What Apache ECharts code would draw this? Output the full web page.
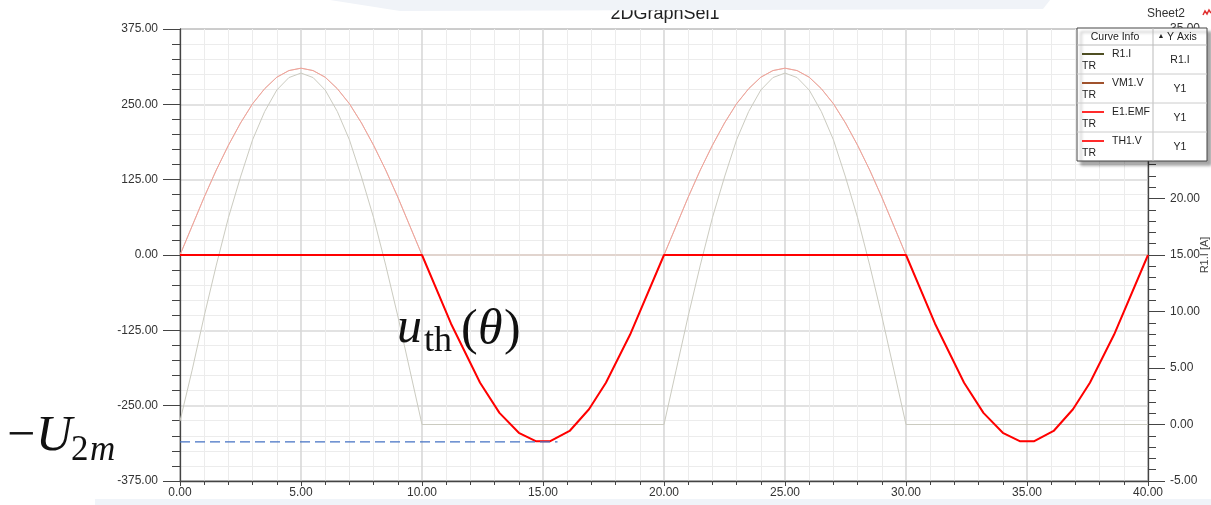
<!DOCTYPE html>
<html>
<head>
<meta charset="utf-8">
<style>html,body{margin:0;padding:0;background:#fff;}#c{width:1211px;height:505px;}</style>
<script src="https://cdn.jsdelivr.net/npm/echarts/dist/echarts.min.js"></script>
</head>
<body>
<div id="c"></div>
<script>
// ---- data ----
const emfT = [0,0.5,1,1.5,2,2.5,3,3.5,4,4.5,5,5.5,6,6.5,7,7.5,8,8.5,9,9.5,10,
  11.2,12.4,13.2,14,14.7,15.3,16.1,16.9,17.6,18.6,20,
  20.5,21,21.5,22,22.5,23,23.5,24,24.5,25,25.5,26,26.5,27,27.5,28,28.5,29,29.5,30,
  31.2,32.4,33.2,34,34.7,35.3,36.1,36.9,37.6,38.6,40];
const emfV = [0,48,96,141,182,219,251,276,295,306,310,306,295,276,251,219,182,141,96,48,0,
  -114,-212,-262,-295,-309,-309,-292,-256,-212,-132,0,
  48,96,141,182,219,251,276,295,306,310,306,295,276,251,219,182,141,96,48,0,
  -114,-212,-262,-295,-309,-309,-292,-256,-212,-132,0];
const thT = [0,10,11.2,12.4,13.2,14,14.7,15.3,16.1,16.9,17.6,18.6,20,
  30,31.2,32.4,33.2,34,34.7,35.3,36.1,36.9,37.6,38.6,40];
const thV = [0,0,-114,-212,-262,-295,-309,-309,-292,-256,-212,-132,0,
  0,-114,-212,-262,-295,-309,-309,-292,-256,-212,-132,0];
const vmT = [0,0.5,1,1.5,2,2.5,3,3.5,4,4.5,5,5.5,6,6.5,7,7.5,8,8.5,9,9.5,10,
  20,20.5,21,21.5,22,22.5,23,23.5,24,24.5,25,25.5,26,26.5,27,27.5,28,28.5,29,29.5,30,40];
const vmV = [0,48,96,141,182,219,251,276,295,306,310,306,295,276,251,219,182,141,96,48,0,
  0,48,96,141,182,219,251,276,295,306,310,306,295,276,251,219,182,141,96,48,0,0];
const riT = [0,0.5,1,1.5,2,2.5,3,3.5,4,4.5,5,5.5,6,6.5,7,7.5,8,8.5,9,9.5,10,
  20,20.5,21,21.5,22,22.5,23,23.5,24,24.5,25,25.5,26,26.5,27,27.5,28,28.5,29,29.5,30,40];
const riV = [0.3,4.8,9.6,14.1,18.3,21.9,25.2,27.7,29.6,30.7,31.1,30.7,29.6,27.7,25.2,21.9,18.3,14.1,9.6,4.8,0,
  0,4.8,9.6,14.1,18.3,21.9,25.2,27.7,29.6,30.7,31.1,30.7,29.6,27.7,25.2,21.9,18.3,14.1,9.6,4.8,0,0];
const dashT = [0, 15.6];
const dashV = [-310, -310];
const legendNames = ['R1.I', 'VM1.V', 'E1.EMF', 'TH1.V'];
const legendAxes = ['R1.I', 'Y1', 'Y1', 'Y1'];
const legendColors = ['#4f4f23', '#a0522d', '#ff2b2b', '#ff2b2b'];

const pairs = (t, v) => t.map((x, i) => [x, v[i]]);
const F = '"Liberation Sans", Arial, sans-serif';
const S = '"Liberation Serif", "Times New Roman", serif';

const chart = echarts.init(document.getElementById('c'), null, {renderer: 'canvas'});

const graphic = [];
// background bands
graphic.push({type:'polygon', z:50, shape:{points:[[330,0],[1050,0],[1043,9],[400,11]]}, style:{fill:'#f0f3f8'}});
graphic.push({type:'rect', z:50, shape:{x:95,y:499,width:1116,height:6}, style:{fill:'#f0f4f9'}});
// title (top slightly covered by band)
graphic.push({type:'text', z:40, x:665, y:14, style:{text:'2DGraphSel1', font:'18px '+F, fill:'#222', textAlign:'center', textVerticalAlign:'middle'}});
graphic.push({type:'text', z:40, x:1166, y:14, style:{text:'Sheet2', font:'12px '+F, fill:'#333', textAlign:'center', textVerticalAlign:'middle'}});
graphic.push({type:'polyline', z:40, shape:{points:[[1203,15],[1205,11],[1207,14],[1209,10],[1211,13]]}, style:{stroke:'#e03030', lineWidth:1.5, fill:null}});
// right axis name
graphic.push({type:'text', z:40, x:1205, y:255, rotation:Math.PI/2, style:{text:'R1.I [A]', font:'11px '+F, fill:'#444', textAlign:'center', textVerticalAlign:'middle'}});
// legend box
const bx = 1077, by = 28, bw = 130, bh = 133;
graphic.push({type:'rect', z:100, shape:{x:bx,y:by,width:bw,height:bh}, style:{fill:'#fff', stroke:'#444', lineWidth:1, shadowBlur:3, shadowOffsetX:4, shadowOffsetY:4, shadowColor:'rgba(0,0,0,0.35)'}});
graphic.push({type:'line', z:101, shape:{x1:1153,y1:by,x2:1153,y2:by+bh}, style:{stroke:'#bbb', lineWidth:1}});
graphic.push({type:'line', z:101, shape:{x1:bx,y1:45,x2:bx+bw,y2:45}, style:{stroke:'#bbb', lineWidth:1}});
graphic.push({type:'text', z:101, x:1115, y:37, style:{text:'Curve Info', font:'10.5px '+F, fill:'#222', textAlign:'center', textVerticalAlign:'middle'}});
graphic.push({type:'text', z:101, x:1161, y:36, style:{text:'▲', font:'7px '+F, fill:'#222', textAlign:'center', textVerticalAlign:'middle'}});
graphic.push({type:'text', z:101, x:1167, y:37, style:{text:'Y Axis', font:'10.5px '+F, fill:'#222', textAlign:'left', textVerticalAlign:'middle'}});
legendNames.forEach((n, i) => {
  const top = 45 + i * 29;
  if (i > 0) graphic.push({type:'line', z:101, shape:{x1:bx,y1:top,x2:bx+bw,y2:top}, style:{stroke:'#ccc', lineWidth:1}});
  graphic.push({type:'line', z:101, shape:{x1:1082,y1:top+9,x2:1104,y2:top+9}, style:{stroke:legendColors[i], lineWidth:2}});
  graphic.push({type:'text', z:101, x:1112, y:top+9, style:{text:n, font:'10.5px '+F, fill:'#222', textAlign:'left', textVerticalAlign:'middle'}});
  graphic.push({type:'text', z:101, x:1082, y:top+21, style:{text:'TR', font:'10.5px '+F, fill:'#222', textAlign:'left', textVerticalAlign:'middle'}});
  graphic.push({type:'text', z:101, x:1180, y:top+15, style:{text:legendAxes[i], font:'10.5px '+F, fill:'#222', textAlign:'center', textVerticalAlign:'middle'}});
});
// annotations
const ann = (text, x, y, size, italic) => graphic.push({type:'text', z:60, x:x, y:y,
  style:{text:text, font:(italic?'italic ':'')+size+'px '+S, fill:'#111', textAlign:'left', textVerticalAlign:'middle'}});
ann('u', 397, 329, 50, true);
ann('th', 424, 342, 36, false);
ann('(', 461, 331, 50, false);
ann('θ', 478, 331, 50, true);
ann(')', 504, 331, 50, false);
ann('−', 7, 437, 50, false);
ann('U', 36, 437, 50, true);
ann('2', 71, 451, 35, false);
ann('m', 90, 451, 35, true);

const lblFmt = v => v.toFixed(2);

chart.setOption({
  animation: false,
  backgroundColor: '#fff',
  grid: {left:180, right:63, top:29, bottom:24, show:true, borderColor:'#555', borderWidth:1, backgroundColor:'transparent'},
  xAxis: {
    type:'value', min:0, max:40, interval:5,
    axisLine:{show:true, onZero:false, lineStyle:{color:'#444', width:1.3}},
    axisTick:{show:true, length:5, lineStyle:{color:'#444'}},
    minorTick:{show:true, splitNumber:5, length:4, lineStyle:{color:'#444'}},
    splitLine:{show:true, lineStyle:{color:'#d8d8d8', width:1.6}},
    minorSplitLine:{show:true, lineStyle:{color:'#ececec', width:1}},
    axisLabel:{formatter:lblFmt, fontSize:12, fontFamily:F, color:'#333', margin:6}
  },
  yAxis: [{
    type:'value', min:-375, max:375, interval:125, position:'left',
    axisLine:{show:true, onZero:false, lineStyle:{color:'#444', width:1.3}},
    axisTick:{show:true, length:17, lineStyle:{color:'#444'}},
    minorTick:{show:true, splitNumber:5, length:8, lineStyle:{color:'#444'}},
    splitLine:{show:true, lineStyle:{color:'#d8d8d8', width:1.6}},
    minorSplitLine:{show:true, lineStyle:{color:'#ececec', width:1}},
    axisLabel:{formatter:lblFmt, fontSize:12, fontFamily:F, color:'#333', margin:22}
  }, {
    type:'value', min:-5, max:35, interval:5, position:'right',
    axisLine:{show:true, onZero:false, lineStyle:{color:'#444', width:1.3}},
    axisTick:{show:true, length:17, lineStyle:{color:'#444'}},
    minorTick:{show:true, splitNumber:5, length:8, lineStyle:{color:'#444'}},
    splitLine:{show:false},
    minorSplitLine:{show:false},
    axisLabel:{formatter:lblFmt, fontSize:12, fontFamily:F, color:'#333', margin:22}
  }],
  graphic: graphic,
  series: [
    {name:'R1.I', type:'line', yAxisIndex:1, data:pairs(riT, riV), symbol:'none', z:2,
     lineStyle:{color:'#cbcbc0', width:1}},
    {name:'VM1.V', type:'line', data:pairs(vmT, vmV), symbol:'none', z:3,
     lineStyle:{color:'#e0c6ba', width:1}},
    {name:'E1.EMF', type:'line', data:pairs(emfT, emfV), symbol:'none', z:4,
     lineStyle:{color:'#f2a29a', width:1}},
    {name:'TH1.V', type:'line', data:pairs(thT, thV), symbol:'none', z:5,
     lineStyle:{color:'#ff0000', width:2}},
    {name:'-U2m', type:'line', data:pairs(dashT, dashV), symbol:'none', z:6,
     lineStyle:{color:'#4472c4', width:1.4, type:[10,5]}}
  ]
});
</script>
</body>
</html>
